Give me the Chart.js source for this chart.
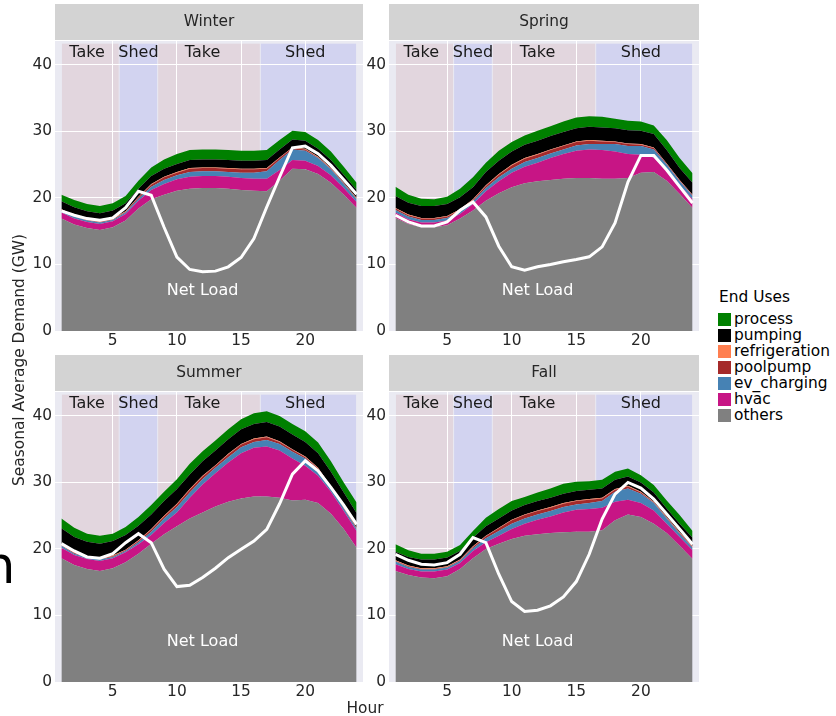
<!DOCTYPE html>
<html>
<head>
<meta charset="utf-8">
<script src="https://cdn.jsdelivr.net/npm/chart.js@4.4.1/dist/chart.umd.min.js"></script>
<style>
  body { margin: 0; width: 836px; height: 716px; background: #fff; position: relative; overflow: hidden; font-family: "DejaVu Sans", sans-serif; }
  canvas { position: absolute; }
  .ytitle { position: absolute; left: 19px; top: 360px; transform: translate(-50%, -50%) rotate(-90deg); white-space: nowrap; font-size: 15.4px; color: #262626; }
  .xtitle { position: absolute; left: 365px; top: 708px; transform: translate(-50%, -50%); font-size: 15.4px; color: #262626; }
  .stray { position: absolute; left: -17px; top: 540px; font-size: 51px; line-height: 1; color: #000; }
  .legend { position: absolute; left: 718px; top: 287px; font-size: 15.4px; color: #000; }
  .legend .title { margin-left: 1px; height: 24px; line-height: 20px; }
  .legend .row { height: 16px; line-height: 16px; display: flex; align-items: center; white-space: nowrap; }
  .legend .box { width: 13px; height: 13px; margin-right: 3px; }
</style>
</head>
<body>
<canvas id="Winter" width="364" height="350" style="left:0px;top:0px"></canvas>
<canvas id="Spring" width="366" height="350" style="left:334px;top:0px"></canvas>
<canvas id="Summer" width="364" height="350" style="left:0px;top:351px"></canvas>
<canvas id="Fall" width="366" height="350" style="left:334px;top:351px"></canvas>
<div class="ytitle">Seasonal Average Demand (GW)</div>
<div class="xtitle">Hour</div>
<div class="stray">n</div>
<div class="legend" id="legend"><div class="title">End Uses</div></div>
<script>
// data
const hours = [1,2,3,4,5,6,7,8,9,10,11,12,13,14,15,16,17,18,19,20,21,22,23,24];
const xTicks = [5,10,15,20];
const yTicks = [0,10,20,30,40];
const endUses = ['others','hvac','ev_charging','poolpump','refrigeration','pumping','process'];

const winterOthers   = [16.9,16.0,15.5,15.2,15.6,16.6,18.4,19.8,20.5,21.1,21.4,21.5,21.5,21.4,21.2,21.1,21.0,22.6,24.4,24.3,23.6,22.3,20.5,18.5];
const winterHvac     = [0.9,0.9,0.9,0.9,0.9,1.0,1.2,1.4,1.6,1.7,1.8,1.8,1.8,1.8,1.8,1.8,1.9,1.6,1.3,1.3,1.2,1.1,1.0,0.9];
const winterEv       = [0.3,0.3,0.2,0.2,0.2,0.2,0.3,0.5,0.6,0.6,0.7,0.7,0.7,0.7,0.8,0.9,1.1,1.5,1.6,1.5,1.2,0.9,0.6,0.4];
const winterPool     = [0.1,0.1,0.1,0.1,0.1,0.1,0.2,0.3,0.4,0.4,0.5,0.5,0.5,0.5,0.5,0.5,0.4,0.3,0.2,0.2,0.1,0.1,0.1,0.1];
const winterRefrig   = [0.1,0.1,0.1,0.1,0.1,0.1,0.1,0.1,0.1,0.1,0.1,0.1,0.1,0.1,0.1,0.1,0.1,0.1,0.1,0.1,0.1,0.1,0.1,0.1];
const winterPumping  = [1.2,1.2,1.2,1.2,1.2,1.2,1.2,1.2,1.2,1.2,1.2,1.2,1.2,1.2,1.2,1.2,1.2,1.2,1.2,1.2,1.2,1.2,1.2,1.2];
const winterProcess  = [1.0,1.1,1.1,1.1,1.1,1.1,1.2,1.3,1.4,1.5,1.5,1.5,1.5,1.5,1.5,1.5,1.5,1.4,1.3,1.3,1.3,1.3,1.2,1.1];
const winterNet      = [18.05,17.4,16.9,16.65,17.0,18.55,21.0,20.4,15.6,11.1,9.25,8.9,9.0,9.65,11.05,13.9,18.65,23.15,27.55,27.8,26.65,24.9,22.75,20.55];

const springOthers   = [17.0,16.1,15.6,15.6,15.9,16.9,18.1,19.6,20.7,21.6,22.2,22.5,22.7,22.9,23.0,23.0,22.9,22.9,23.0,23.8,23.9,22.6,20.6,18.5];
const springHvac     = [0.8,0.7,0.7,0.7,0.7,0.7,1.0,1.4,1.8,2.2,2.5,2.8,3.3,3.7,4.1,4.3,4.3,4.1,3.6,2.7,2.2,1.5,1.3,1.3];
const springEv       = [0.4,0.4,0.4,0.4,0.4,0.4,0.4,0.5,0.6,0.6,0.7,0.7,0.7,0.7,0.8,0.8,0.9,1.1,1.2,1.3,1.2,0.9,0.6,0.5];
const springPool     = [0.2,0.2,0.2,0.2,0.2,0.2,0.2,0.3,0.4,0.5,0.5,0.5,0.5,0.5,0.5,0.5,0.4,0.3,0.3,0.2,0.2,0.1,0.1,0.1];
const springRefrig   = [0.1,0.1,0.1,0.1,0.1,0.1,0.1,0.1,0.1,0.1,0.1,0.1,0.1,0.1,0.1,0.1,0.1,0.1,0.1,0.1,0.1,0.1,0.1,0.1];
const springPumping  = [1.8,1.8,1.8,1.8,1.8,1.8,1.8,2.0,2.0,2.0,2.0,2.0,2.0,2.0,2.0,2.0,2.0,2.0,2.0,2.0,2.0,2.0,1.8,1.8];
const springProcess  = [1.4,1.2,1.1,1.0,1.1,1.3,1.5,1.4,1.5,1.4,1.4,1.5,1.5,1.6,1.6,1.6,1.6,1.4,1.4,1.4,1.3,1.5,1.5,1.4];
const springNet      = [17.4,16.4,15.8,15.8,16.4,18.15,19.4,17.15,12.75,9.65,9.15,9.65,10.0,10.4,10.75,11.15,12.65,16.25,22.4,26.4,26.4,24.2,21.7,19.25];

const summerOthers   = [18.6,17.6,17.0,16.7,17.1,18.0,19.3,20.8,22.2,23.4,24.6,25.5,26.4,27.1,27.6,27.9,27.9,27.7,27.3,27.4,26.9,25.3,23.0,20.2];
const summerHvac     = [1.6,1.5,1.5,1.5,1.5,1.5,1.4,1.3,1.7,2.1,3.1,4.2,5.0,5.9,6.8,7.3,7.5,7.1,6.3,5.1,4.1,3.3,2.7,2.5];
const summerEv       = [0.3,0.2,0.2,0.2,0.2,0.2,0.3,0.5,0.7,0.8,0.8,0.8,0.8,0.8,0.9,0.9,1.0,1.0,1.0,1.1,0.9,0.6,0.4,0.3];
const summerPool     = [0.1,0.1,0.1,0.1,0.1,0.1,0.2,0.3,0.3,0.4,0.4,0.4,0.3,0.4,0.4,0.4,0.4,0.3,0.3,0.2,0.2,0.1,0.1,0.1];
const summerRefrig   = [0.1,0.1,0.1,0.1,0.1,0.1,0.1,0.1,0.1,0.1,0.1,0.1,0.1,0.1,0.1,0.1,0.1,0.1,0.1,0.1,0.1,0.1,0.1,0.1];
const summerPumping  = [2.4,2.3,2.2,2.2,2.2,2.2,2.2,2.2,2.2,2.2,2.2,2.2,2.2,2.2,2.2,2.2,2.2,2.2,2.2,2.2,2.2,2.2,2.2,2.2];
const summerProcess  = [1.5,1.4,1.2,1.2,1.1,1.2,1.3,1.4,1.4,1.5,1.6,1.5,1.5,1.5,1.5,1.6,1.6,1.6,1.6,1.6,1.6,1.6,1.5,1.6];
const summerNet      = [20.8,19.7,18.8,18.6,19.3,20.95,22.3,20.95,16.95,14.35,14.55,15.7,17.1,18.7,19.95,21.2,22.95,26.8,31.25,33.25,31.75,29.25,26.6,23.7];

const fallOthers     = [16.7,16.1,15.7,15.6,15.9,17.0,18.6,20.0,20.8,21.5,22.0,22.2,22.4,22.5,22.6,22.6,22.8,24.3,25.2,24.8,23.8,22.4,20.5,18.5];
const fallHvac       = [1.0,0.9,0.9,1.0,1.0,0.9,1.1,1.0,1.2,1.5,1.8,2.2,2.5,3.0,3.3,3.4,3.4,2.8,2.2,2.1,2.0,1.4,1.3,1.3];
const fallEv         = [0.4,0.3,0.3,0.3,0.3,0.3,0.4,0.6,0.7,0.8,0.8,0.8,0.8,0.8,0.8,0.9,1.0,1.5,1.7,1.4,1.1,0.8,0.5,0.4];
const fallPool       = [0.1,0.1,0.1,0.1,0.1,0.1,0.2,0.3,0.4,0.5,0.5,0.5,0.5,0.5,0.5,0.5,0.4,0.3,0.3,0.2,0.1,0.1,0.1,0.1];
const fallRefrig     = [0.1,0.1,0.1,0.1,0.1,0.1,0.1,0.1,0.1,0.1,0.1,0.1,0.1,0.1,0.1,0.1,0.1,0.1,0.1,0.1,0.1,0.1,0.1,0.1];
const fallPumping    = [1.3,1.3,1.3,1.3,1.3,1.3,1.3,1.4,1.4,1.4,1.4,1.4,1.4,1.4,1.4,1.4,1.4,1.4,1.4,1.4,1.4,1.3,1.3,1.3];
const fallProcess    = [1.1,1.0,0.9,0.9,0.9,0.9,1.0,1.3,1.4,1.4,1.2,1.3,1.4,1.5,1.4,1.3,1.3,1.2,1.2,1.1,1.1,1.2,1.3,1.0];
const fallNet        = [19.2,18.3,17.7,17.6,17.95,19.2,21.7,20.95,16.2,12.1,10.6,10.8,11.45,12.8,15.1,19.2,24.5,28.25,30.0,29.15,27.5,25.25,23.0,20.7];

// take / shed windows (hours) and where their labels sit
const spanStarts = [1, 5.5, 8.5, 16.5];
const spanEnds   = [5.5, 8.5, 16.5, 24];
const spanNames  = ['Take', 'Shed', 'Take', 'Shed'];
const spanLabelHours = [3, 7, 12, 20];

const colors = ['#808080', '#c71585', '#4682b4', '#a52a2a', '#ff7f50', '#000000', '#008000'];
const takeColor = '#e2d6de';
const shedColor = '#d2d3f0';
const FONT = '"DejaVu Sans", sans-serif';

const panelPlugin = {
    id: 'panel',
    beforeDraw(chart, args, opts) {
        const ctx = chart.ctx;
        const a = chart.chartArea;
        const x = chart.scales.x, y = chart.scales.y;
        ctx.save();
        // strip with the season name
        ctx.fillStyle = '#d3d3d3';
        ctx.fillRect(a.left, 4, a.right - a.left, 36);
        ctx.fillStyle = '#262626';
        ctx.font = '15.4px ' + FONT;
        ctx.textAlign = 'center';
        ctx.textBaseline = 'middle';
        ctx.fillText(opts.title, (a.left + a.right) / 2, 22);
        // panel background
        ctx.fillStyle = '#eaeaf2';
        ctx.fillRect(a.left, a.top, a.right - a.left, a.bottom - a.top);
        // take / shed shading
        const top = y.getPixelForValue(43.2), bot = y.getPixelForValue(0);
        spanStarts.forEach((s, i) => {
            const x0 = x.getPixelForValue(s), x1 = x.getPixelForValue(spanEnds[i]);
            ctx.fillStyle = spanNames[i] === 'Take' ? takeColor : shedColor;
            ctx.fillRect(x0 + 0.5, top, x1 - x0 - 1, bot - top);
        });
        ctx.restore();
    },
    afterDatasetsDraw(chart) {
        const ctx = chart.ctx;
        const x = chart.scales.x, y = chart.scales.y;
        ctx.save();
        ctx.font = '16px ' + FONT;
        ctx.textAlign = 'center';
        ctx.textBaseline = 'middle';
        ctx.fillStyle = '#1a1a1a';
        spanLabelHours.forEach((h, i) => {
            ctx.fillText(spanNames[i], x.getPixelForValue(h), y.getPixelForValue(41.8));
        });
        ctx.fillStyle = '#ffffff';
        ctx.fillText('Net Load', x.getPixelForValue(12), y.getPixelForValue(6.1));
        ctx.restore();
    }
};

function pts(vals) {
    return hours.map((h, k) => ({x: h, y: vals[k]}));
}

function makeChart(id, layers, net) {
    const datasets = [{
        label: 'Net Load',
        data: pts(net),
        borderColor: '#ffffff',
        borderWidth: 3,
        fill: false,
        stack: 'net',
        pointRadius: 0,
        tension: 0
    }];
    layers.forEach((vals, i) => {
        datasets.push({
            label: endUses[i],
            data: pts(vals),
            backgroundColor: colors[i],
            borderColor: colors[i],
            borderWidth: 0,
            fill: i === 0 ? 'origin' : '-1',
            stack: 'uses',
            pointRadius: 0,
            tension: 0
        });
    });

    const tickFont = {family: FONT, size: 15.4};
    return new Chart(document.getElementById(id), {
        type: 'line',
        data: {datasets: datasets},
        plugins: [panelPlugin],
        options: {
            responsive: false,
            animation: false,
            layout: {padding: {top: 41, right: 1, left: 0, bottom: 0}},
            plugins: {
                legend: {display: false},
                tooltip: {enabled: false},
                panel: {title: id}
            },
            scales: {
                x: {
                    type: 'linear',
                    min: 0.5,
                    max: 24.5,
                    afterBuildTicks: s => { s.ticks = xTicks.map(v => ({value: v})); },
                    afterFit: s => { s.height = 19; },
                    ticks: {font: tickFont, color: '#262626', padding: 1, autoSkip: false, maxRotation: 0},
                    grid: {color: '#ffffff', lineWidth: 1, drawTicks: false},
                    border: {display: false}
                },
                y: {
                    stacked: true,
                    min: 0,
                    max: 43.6,
                    afterBuildTicks: s => { s.ticks = yTicks.map(v => ({value: v})); },
                    afterFit: s => { s.width = 55; },
                    ticks: {font: tickFont, color: '#262626', padding: 3},
                    grid: {color: '#ffffff', lineWidth: 1, drawTicks: false},
                    border: {display: false}
                }
            }
        }
    });
}

makeChart('Winter', [winterOthers, winterHvac, winterEv, winterPool, winterRefrig, winterPumping, winterProcess], winterNet);
makeChart('Spring', [springOthers, springHvac, springEv, springPool, springRefrig, springPumping, springProcess], springNet);
makeChart('Summer', [summerOthers, summerHvac, summerEv, summerPool, summerRefrig, summerPumping, summerProcess], summerNet);
makeChart('Fall', [fallOthers, fallHvac, fallEv, fallPool, fallRefrig, fallPumping, fallProcess], fallNet);

// legend, top entry first like the picture
const legend = document.getElementById('legend');
for (let i = endUses.length - 1; i >= 0; i--) {
    const row = document.createElement('div');
    row.className = 'row';
    row.innerHTML = '<span class="box" style="background:' + colors[i] + '"></span>' + endUses[i];
    legend.appendChild(row);
}
</script>
</body>
</html>
